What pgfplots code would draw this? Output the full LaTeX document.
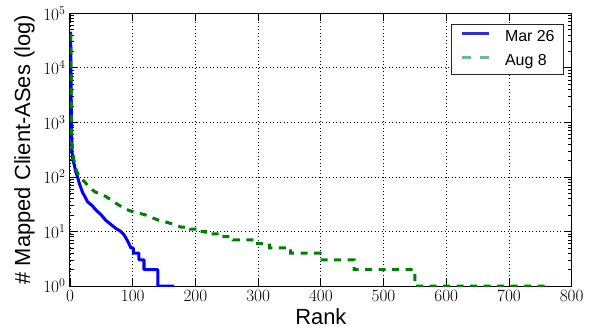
\documentclass[border=0pt]{standalone}
\usepackage{fontspec}
\setmainfont{Liberation Sans}
\usepackage{pgfplots}
\pgfplotsset{compat=1.18}
\definecolor{mplblue}{HTML}{0000FF}
\definecolor{mplgreen}{HTML}{008000}
\definecolor{legblue}{HTML}{3030D0}
\definecolor{leggreen}{HTML}{6DBB8A}
\begin{document}
\begin{tikzpicture}
\begin{axis}[
  name=ax,
  scale only axis,
  width=501.7bp, height=272.7bp,
  xmin=0, xmax=800,
  ymode=log, ymin=1, ymax=1e5,
  xtick={0,100,...,800},
  ytick={1,10,100,1000,10000,100000},
  tick align=inside,
  major tick length=8bp,
  minor tick length=4bp,
  tick style={black, line width=0.7bp},
  axis line style={black, line width=1bp},
  grid=major,
  major grid style={black, line width=0.7bp, dash pattern=on 1bp off 2.5bp},
  tick label style={font=\fontsize{17.5}{17.5}\selectfont},
  xticklabel style={yshift=-1bp},
  yticklabel style={xshift=-1bp},
  xlabel={Rank},
  ylabel={\# Mapped Client-ASes (log)},
  label style={font=\fontsize{22}{22}\selectfont, inner sep=0pt},
  xlabel style={at={(axis description cs:0.5,-0.143)}, anchor=base},
  ylabel style={at={(axis description cs:-0.0797,0.5)}, anchor=base},
  legend image code/.code={\draw[#1] (0bp,4bp) -- (27bp,4bp);},
  legend style={at={(axis description cs:0.9847,0.962)}, anchor=north east,
    draw=black!85, line width=0.8bp, fill=white,
    font=\fontsize{16}{16}\selectfont,
    inner xsep=9bp, inner ysep=5.5bp, row sep=9.5bp,
    nodes={inner sep=0pt, text height=11.5bp, text depth=3.5bp},
    /tikz/every odd column/.append style={column sep=15bp}},
  legend cell align=left,
]
\addplot[mplblue, line width=3bp, line join=round, forget plot] coordinates {
(1,46000) (2,2500) (3,320) (4,230) (5,195) (7,165) (9,125) (12,100) (15,75)
(20,52) (25,41) (28,35) (35,30) (41,25) (50,20) (57,16) (65,13.5) (73,11.4)
(81,10) (85,9) (88,8) (91,7) (94,6) (97,5) (101,5) (101,4) (110,4) (110,3)
(118,3) (118,2) (140,2) (140,1) (166,1)
};
\addplot[mplgreen, line width=3bp, dash pattern=on 7bp off 6.5bp, forget plot] coordinates {
(1,42000) (2,3000) (3,420) (5,250) (8,160) (10,134) (15,100) (23,82) (30,66)
(39,54) (48,48) (57,44) (65,38) (73,33) (81,29) (89,25.6) (100,23) (108,22)
(121,20) (130,18) (142,16) (152,15) (161,14) (170,13) (177,12) (192,12)
(192,11) (205,11) (205,10) (216,10) (216,9) (242,9) (242,8) (260,8) (260,7)
(290,7) (290,6) (318,6) (318,5) (352,5) (352,4) (399,4) (399,3) (453,3)
(453,2) (550,2) (550,1) (758,1)
};
\addlegendimage{legblue, line width=3bp}
\addlegendentry{Mar 26}
\addlegendimage{leggreen, line width=3bp, dash pattern=on 9bp off 9bp}
\addlegendentry{Aug 8}
\end{axis}
\path (ax.south west) ++(-70bp,-45bp) coordinate (bl);
\path (ax.north east) ++(23.3bp,13.3bp) coordinate (tr);
\pgfresetboundingbox
\path (bl) rectangle (tr);
\end{tikzpicture}
\end{document}
